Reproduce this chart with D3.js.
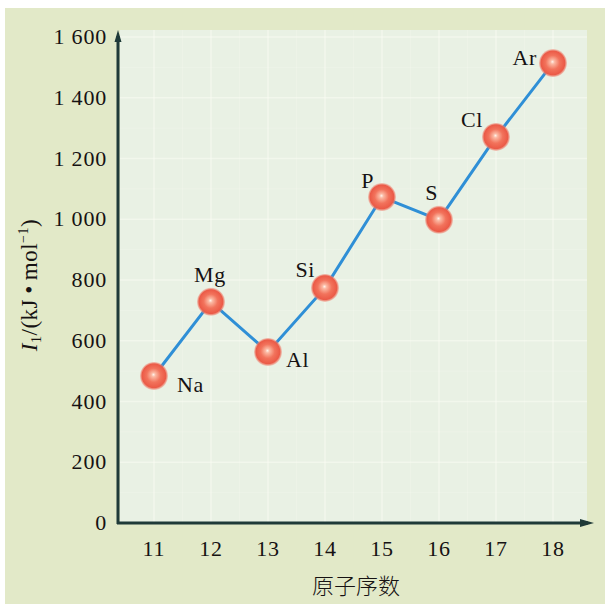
<!DOCTYPE html>
<html><head><meta charset="utf-8">
<script src="https://cdn.jsdelivr.net/npm/d3@7/dist/d3.min.js"></script>
<style>body{margin:0;background:#fff;}svg{display:block;}</style>
</head><body>
<svg id="c" width="605" height="604"></svg>
<script>
const atomicNumbers = [11, 12, 13, 14, 15, 16, 17, 18];
const elements = ["Na", "Mg", "Al", "Si", "P", "S", "Cl", "Ar"];
const ionizationEnergy = [484, 728, 563, 774, 1073, 998, 1271, 1514];
const yTicks = [0, 200, 400, 600, 800, 1000, 1200, 1400, 1600];
const yTickLabels = ["0", "200", "400", "600", "800", "1 000", "1 200", "1 400", "1 600"];
const xTickLabels = ["11", "12", "13", "14", "15", "16", "17", "18"];
const xTitle = "原子序数";

// label placement (layout only): [dx, dy, anchor]
const labelPlacement = [[23, 16, "start"], [-1, -20, "middle"], [18, 15, "start"], [-10, -11, "end"],
  [-8, -9, "end"], [-1, -20, "end"], [-13, -10, "end"], [-16, 2, "end"]];

const svg = d3.select("#c");
const W = 605, H = 604;
const serif = "'Liberation Serif','Times New Roman',serif";
const ink = "#161213";

svg.append("rect").attr("x", 5).attr("y", 8).attr("width", W - 5).attr("height", H - 8).attr("fill", "#e2e9c8");

const x = d3.scaleLinear().domain([11, 18]).range([154, 553]);
const y = d3.scaleLinear().domain([0, 1600]).range([523, 37]);

const plotL = 120, plotR = 587, plotT = 30, plotB = 522;
svg.append("rect").attr("x", plotL).attr("y", plotT).attr("width", plotR - plotL).attr("height", plotB - plotT).attr("fill", "#e9f1e4");

// faint grid
const g = svg.append("g");
g.selectAll("line.h").data(yTicks.slice(1).concat([100, 300, 500, 700, 900, 1100, 1300, 1500])).enter().append("line")
  .attr("x1", plotL).attr("x2", plotR).attr("y1", d => y(d)).attr("y2", d => y(d))
  .attr("stroke", "#fbfcf4").attr("stroke-width", d => d % 200 === 0 ? 1.5 : 0.8).attr("opacity", d => d % 200 === 0 ? 0.55 : 0.3);
g.selectAll("line.v").data(atomicNumbers.concat([11.5, 12.5, 13.5, 14.5, 15.5, 16.5, 17.5])).enter().append("line")
  .attr("y1", plotT).attr("y2", plotB).attr("x1", d => x(d)).attr("x2", d => x(d))
  .attr("stroke", "#fbfcf4").attr("stroke-width", d => Number.isInteger(d) ? 1.5 : 0.8).attr("opacity", d => Number.isInteger(d) ? 0.55 : 0.3);

// axes
const axisColor = "#1f3a38";
svg.append("line").attr("x1", 118).attr("x2", 118).attr("y1", 524).attr("y2", 36).attr("stroke", axisColor).attr("stroke-width", 3);
svg.append("path").attr("d", "M118,30 L114.5,42 L121.5,42 Z").attr("fill", axisColor);
svg.append("line").attr("x1", 117).attr("x2", 588).attr("y1", 523).attr("y2", 523).attr("stroke", axisColor).attr("stroke-width", 3);
svg.append("path").attr("d", "M594,523 L580,519 L580,527 Z").attr("fill", axisColor);

// y tick labels
svg.selectAll("text.yt").data(yTicks).enter().append("text")
  .attr("x", 107).attr("y", d => y(d) + 7).attr("text-anchor", "end")
  .attr("font-family", serif).attr("font-size", 22).attr("letter-spacing", 0.8).attr("fill", ink)
  .text((d, i) => yTickLabels[i]);

// x tick labels
svg.selectAll("text.xt").data(atomicNumbers).enter().append("text")
  .attr("x", d => x(d)).attr("y", 556).attr("text-anchor", "middle")
  .attr("font-family", serif).attr("font-size", 22).attr("letter-spacing", 0.8).attr("fill", ink)
  .text((d, i) => xTickLabels[i]);

svg.append("text").attr("x", 356).attr("y", 594).attr("text-anchor", "middle")
  .attr("font-family", "'Noto Sans CJK SC',sans-serif").attr("font-weight", 300).attr("font-size", 22).attr("fill", ink)
  .text(xTitle);

// y title
const yt = svg.append("text").attr("transform", "translate(37,285) rotate(-90)").attr("text-anchor", "middle")
  .attr("font-family", serif).attr("font-size", 23).attr("letter-spacing", 0.5).attr("fill", ink);
yt.append("tspan").attr("font-style", "italic").text("I");
yt.append("tspan").attr("font-size", 14).attr("dy", 4).text("1");
yt.append("tspan").attr("dy", -4).text("/(kJ\u2009\u2022\u2009mol");
yt.append("tspan").attr("font-size", 14).attr("dy", -9).text("\u22121");
yt.append("tspan").attr("dy", 9).text(")");

// line
const line = d3.line().x((d, i) => x(atomicNumbers[i])).y(d => y(d));
svg.append("path").datum(ionizationEnergy).attr("d", line).attr("fill", "none")
  .attr("stroke", "#2f8fd6").attr("stroke-width", 3);

// markers
const defs = svg.append("defs");
const rg = defs.append("radialGradient").attr("id", "ball").attr("cx", "50%").attr("cy", "50%").attr("r", "50%").attr("fx", "48%").attr("fy", "45%");
rg.append("stop").attr("offset", "0%").attr("stop-color", "#fff2ea");
rg.append("stop").attr("offset", "15%").attr("stop-color", "#fbb8a2");
rg.append("stop").attr("offset", "50%").attr("stop-color", "#f2735c");
rg.append("stop").attr("offset", "85%").attr("stop-color", "#eb5a47");
rg.append("stop").attr("offset", "100%").attr("stop-color", "#f08c7a").attr("stop-opacity", 0.4);

svg.selectAll("circle.pt").data(ionizationEnergy).enter().append("circle")
  .attr("cx", (d, i) => x(atomicNumbers[i])).attr("cy", d => y(d)).attr("r", 14)
  .attr("fill", "url(#ball)");

// element labels
svg.selectAll("text.el").data(ionizationEnergy).enter().append("text")
  .attr("x", (d, i) => x(atomicNumbers[i]) + labelPlacement[i][0])
  .attr("y", (d, i) => y(d) + labelPlacement[i][1])
  .attr("text-anchor", (d, i) => labelPlacement[i][2])
  .attr("font-family", serif).attr("font-size", 22).attr("letter-spacing", 0.6).attr("fill", ink)
  .text((d, i) => elements[i]);
</script>
</body></html>
